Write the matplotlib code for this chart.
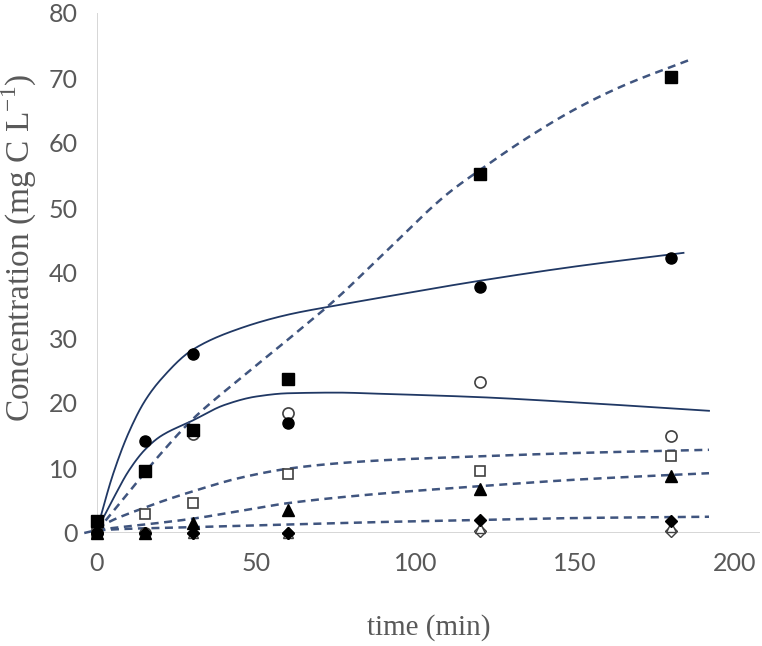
import numpy as np
import matplotlib
matplotlib.use('Agg')
import matplotlib.pyplot as plt

# measured points (time in min, concentration in mg C/L)
t = [0, 15, 30, 60, 120, 180]
sq_filled = [1.8, 9.6, 15.8, 23.7, 55.3, 70.1]
circ_filled = [0.0, 14.2, 27.6, 17.0, 37.8, 42.3]
circ_open = [0.0, 0.0, 15.3, 18.5, 23.3, 15.0]
sq_open = [0.0, 3.0, 4.6, 9.1, 9.6, 11.8]
tri_filled = [0.0, 0.0, 1.6, 3.5, 6.7, 8.8]
dia_filled = [0.0, 0.0, 0.0, 0.0, 2.0, 1.8]
tri_open = [0.0, 0.0, 0.0, 0.0, 0.7, 0.9]
dia_open = [0.0, 0.0, 0.0, 0.0, 0.3, 0.3]

# model curves
tA = [0, 5, 10, 15, 20, 30, 45, 60, 75, 90, 120, 150, 184]
cA = [0.5, 9.0, 15.5, 20.3, 23.6, 28.2, 31.5, 33.6, 35.0, 36.3, 38.8, 41.0, 43.1]
tB = [0, 5, 10, 15, 20, 30, 40, 50, 60, 75, 90, 120, 150, 192]
cB = [0.5, 5.2, 9.6, 12.8, 14.9, 17.3, 19.7, 21.0, 21.5, 21.6, 21.4, 20.9, 20.1, 18.8]
tC = [0, 10, 20, 30, 45, 60, 75, 90, 110, 120, 135, 150, 165, 186]
cC = [0.3, 6.3, 12.2, 17.5, 23.8, 29.8, 36.0, 43.0, 52.2, 55.8, 60.8, 65.2, 68.8, 72.8]
tD = [0, 5, 10, 15, 20, 30, 45, 60, 75, 90, 120, 150, 192]
cD = [0.8, 2.0, 3.0, 3.9, 4.8, 6.4, 8.5, 9.9, 10.7, 11.2, 11.8, 12.3, 12.8]
tE = [0, 15, 30, 45, 60, 90, 120, 150, 192]
cE = [0.5, 1.3, 2.2, 3.4, 4.6, 6.1, 7.2, 8.2, 9.2]
tF = [-4, 0, 30, 60, 90, 120, 150, 192]
cF = [0.0, 0.4, 0.9, 1.3, 1.7, 2.0, 2.3, 2.5]

solid_col = '#203864'
dash_col = '#40557f'
grey = '#595959'


def pchip(x, y, n=400):
    # shape-preserving cubic through the read points, just to draw them smooth
    x = np.asarray(x, float)
    y = np.asarray(y, float)
    h = np.diff(x)
    d = np.diff(y) / h
    m = np.zeros_like(y)
    for k in range(1, len(x) - 1):
        if d[k-1] * d[k] > 0:
            w1 = 2*h[k] + h[k-1]
            w2 = h[k] + 2*h[k-1]
            m[k] = (w1 + w2) / (w1/d[k-1] + w2/d[k])
    m[0], m[-1] = d[0], d[-1]
    xs = np.linspace(x[0], x[-1], n)
    i = np.clip(np.searchsorted(x, xs) - 1, 0, len(h) - 1)
    s = (xs - x[i]) / h[i]
    ys = ((2*s**3 - 3*s**2 + 1)*y[i] + (s**3 - 2*s**2 + s)*h[i]*m[i]
          + (-2*s**3 + 3*s**2)*y[i+1] + (s**3 - s**2)*h[i]*m[i+1])
    return xs, ys


fig = plt.figure(figsize=(7.62, 6.46), dpi=100)
ax = fig.add_axes([97/762, 1-533/646, 663/762, 520/646])
ax.set_xlim(0, 208)
ax.set_ylim(0, 80)
for s in ax.spines.values():
    s.set_visible(False)
ax.axvline(0, color='#d0d0d0', lw=1.2, zorder=0)
ax.axhline(0, color='#d0d0d0', lw=1.2, zorder=0)

for tx, cy in [(tA, cA), (tB, cB)]:
    ax.plot(*pchip(tx, cy), color=solid_col, lw=1.3, clip_on=False, zorder=2)
for tx, cy in [(tC, cC), (tD, cD), (tE, cE), (tF, cF)]:
    ax.plot(*pchip(tx, cy), color=dash_col, lw=1.8, ls=(0, (3.2, 2.2)), clip_on=False, zorder=2)

ms = 8
kw = dict(ls='none', clip_on=False, zorder=3)
ax.plot(t, dia_open, marker='D', ms=ms-2, mfc='white', mec='#404040', **kw)
ax.plot(t, tri_open, marker='^', ms=ms-1, mfc='white', mec='#404040', **kw)
ax.plot(t, circ_open, marker='o', ms=ms, mfc='white', mec='#404040', mew=1.2, **kw)
ax.plot(t, sq_open, marker='s', ms=ms-0.5, mfc='white', mec='#404040', mew=1.2, **kw)
ax.plot(t, dia_filled, marker='D', ms=ms-2, color='black', **kw)
ax.plot(t, tri_filled, marker='^', ms=ms, color='black', **kw)
ax.plot(t, circ_filled, marker='o', ms=ms, color='black', **kw)
ax.plot(t, sq_filled, marker='s', ms=ms, color='black', **kw)

ax.set_xticks([0, 50, 100, 150, 200])
ax.set_yticks(range(0, 81, 10))
ax.tick_params(length=0, labelsize=18, labelcolor=grey, pad=14)
for lab in ax.get_xticklabels() + ax.get_yticklabels():
    lab.set_family('Lato')

fig.text(429/762, 1-628/646, 'time (min)', family='Liberation Serif', fontsize=21,
         color=grey, ha='center', va='center')
fig.text(19/762, 1-248/646, 'Concentration (mg C L$^{\\mathregular{-1}}$)',
         family='Liberation Serif', fontsize=24, color=grey,
         rotation=90, ha='center', va='center')

fig.savefig('out.png', dpi=100)
